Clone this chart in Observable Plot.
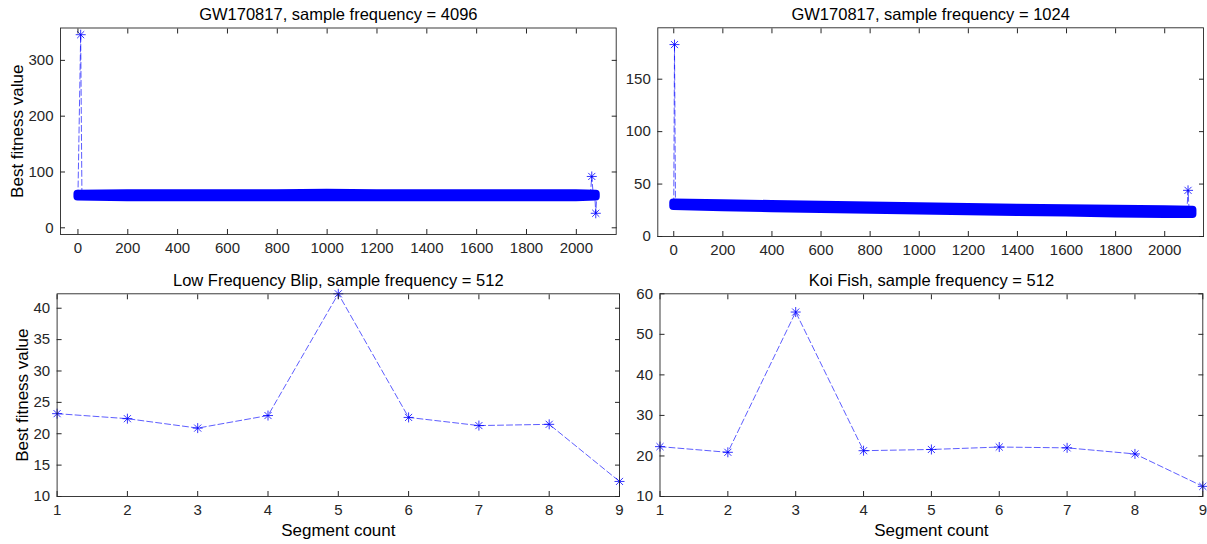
<!DOCTYPE html>
<html><head><meta charset="utf-8">
<script src="https://cdn.jsdelivr.net/npm/d3@7"></script>
<script src="https://cdn.jsdelivr.net/npm/@observablehq/plot@0.6"></script>
<style>
body{margin:0;background:#fff;}
#chart{position:relative;width:1207px;height:544px;overflow:hidden;background:#fff;}
#chart svg{position:absolute;}
</style></head><body><div id="chart"></div>
<script>
// ---------- data ----------
const titles = ["GW170817, sample frequency = 4096", "GW170817, sample frequency = 1024",
                "Low Frequency Blip, sample frequency = 512", "Koi Fish, sample frequency = 512"];
const yLabel = "Best fitness value";
const xLabel = "Segment count";

// top-left: dense band (envelope) + isolated points
const tlBandX    = [0, 200, 400, 600, 800, 1000, 1200, 1400, 1600, 1800, 2000, 2080];
const tlBandLow  = [55, 54, 54, 54, 54, 54, 54, 54, 54, 54, 54, 55];
const tlBandHigh = [60, 61, 61, 61, 61, 62, 61, 61, 61, 61, 61, 60];
const tlStartX = [0, 11, 16];
const tlStartY = [57, 346, 58];
const tlEndX = [2056, 2062, 2068, 2074, 2078, 2082];
const tlEndY = [58, 92, 58, 58, 26, 57];
const tlXTicks = [0, 200, 400, 600, 800, 1000, 1200, 1400, 1600, 1800, 2000];
const tlYTicks = [0, 100, 200, 300];

// top-right
const trBandX    = [0, 200, 400, 600, 800, 1000, 1200, 1400, 1600, 1800, 2000, 2115];
const trBandLow  = [28.5, 27.3, 26.5, 25.7, 25, 24.3, 23.6, 23, 22.3, 21.5, 21, 21];
const trBandHigh = [32, 31.3, 30.5, 29.7, 29, 28.3, 27.6, 27, 26.5, 26, 25.5, 25];
const trStartX = [0, 3, 7];
const trStartY = [31, 183, 30];
const trEndX = [2090, 2095, 2100];
const trEndY = [23, 44, 23];
const trXTicks = [0, 200, 400, 600, 800, 1000, 1200, 1400, 1600, 1800, 2000];
const trYTicks = [0, 50, 100, 150];

// bottom panels
const segments = [1, 2, 3, 4, 5, 6, 7, 8, 9];
const blipFitness = [23.2, 22.4, 20.9, 22.9, 42.3, 22.6, 21.3, 21.5, 12.4];
const koiFitness  = [22.3, 20.9, 55.5, 21.3, 21.6, 22.2, 22.0, 20.5, 12.5];
const blipYTicks = [10, 15, 20, 25, 30, 35, 40];
const koiYTicks  = [10, 20, 30, 40, 50, 60];

// ---------- helpers ----------
const FONT = '"Liberation Sans", Arial, Helvetica, sans-serif';
const BLUE = "#0000ff";
const AXC = "#262626";
const asterisk = {
  draw(ctx, size) {
    const r = Math.sqrt(size / Math.PI), d = r * Math.SQRT1_2;
    ctx.moveTo(-r, 0); ctx.lineTo(r, 0);
    ctx.moveTo(0, -r); ctx.lineTo(0, r);
    ctx.moveTo(-d, -d); ctx.lineTo(d, d);
    ctx.moveTo(-d, d); ctx.lineTo(d, -d);
  }
};
const pts = (xs, ys) => xs.map((x, i) => ({x, y: ys[i]}));
const band = (xs, lo, hi) => xs.map((x, i) => ({x, lo: lo[i], hi: hi[i]}));
const dashed = (data) => Plot.line(data, {x: "x", y: "y", stroke: BLUE, strokeWidth: 0.8, strokeDasharray: "6,3", strokeOpacity: 0.8});
const stars = (data) => Plot.dot(data, {x: "x", y: "y", symbol: asterisk, r: 5, stroke: BLUE, strokeWidth: 0.8, fill: "none"});
const fmt = d => String(d);

function axes(xTicks, yTicks) {
  const blank = () => "";
  return [
    Plot.axisX(xTicks, {anchor: "bottom", tickSize: 0, tickPadding: 8, tickFormat: fmt, label: null, fontSize: 15, fill: AXC}),
    Plot.axisX(xTicks, {anchor: "bottom", tickSize: -5, tickFormat: blank, label: null, stroke: AXC}),
    Plot.axisX(xTicks, {anchor: "top", tickSize: -5, tickFormat: blank, label: null, stroke: AXC}),
    Plot.axisY(yTicks, {anchor: "left", tickSize: 0, tickPadding: 7, tickFormat: fmt, label: null, fontSize: 15, fill: AXC}),
    Plot.axisY(yTicks, {anchor: "left", tickSize: -5, tickFormat: blank, label: null, stroke: AXC}),
    Plot.axisY(yTicks, {anchor: "right", tickSize: -5, tickFormat: blank, label: null, stroke: AXC}),
    Plot.frame({stroke: AXC, strokeWidth: 0.9})
  ];
}

function panel(o) {
  const marks = [
    ...o.marks,
    ...axes(o.xTicks, o.yTicks),
    Plot.text([o.title], {text: d => d, frameAnchor: "top", textAnchor: "middle", lineAnchor: "middle", dy: -13.5, fontSize: 16.5, fill: "#000"})
  ];
  if (o.yLabel) marks.push(Plot.text([o.yLabel], {text: d => d, frameAnchor: "left", textAnchor: "middle", lineAnchor: "middle", rotate: -90, dx: o.yLabelDx, fontSize: 17, fill: "#000"}));
  if (o.xLabel) marks.push(Plot.text([o.xLabel], {text: d => d, frameAnchor: "bottom", textAnchor: "middle", lineAnchor: "middle", dy: 34, fontSize: 17, fill: "#000"}));
  const svg = Plot.plot({
    width: o.width, height: o.height,
    marginLeft: o.ml, marginRight: o.mr, marginTop: o.mt, marginBottom: o.mb,
    style: {fontFamily: FONT, background: "transparent", overflow: "visible", color: AXC},
    x: {type: "linear", domain: o.xDomain},
    y: {type: "linear", domain: o.yDomain},
    marks
  });
  svg.style.left = o.left + "px";
  svg.style.top = o.top + "px";
  document.getElementById("chart").appendChild(svg);
}

const bandMark = (data) => Plot.areaY(data, {x: "x", y1: "lo", y2: "hi", fill: BLUE, stroke: BLUE, strokeWidth: 8, strokeLinejoin: "round"});

panel({
  left: 0, top: 0, width: 636, height: 265, ml: 60, mr: 20.3, mt: 27.5, mb: 31,
  xDomain: [-70, 2160], yDomain: [-12, 358], xTicks: tlXTicks, yTicks: tlYTicks,
  title: titles[0], yLabel, yLabelDx: -43,
  marks: [
    dashed(pts(tlStartX, tlStartY)), dashed(pts(tlEndX, tlEndY)),
    bandMark(band(tlBandX, tlBandLow, tlBandHigh)),
    stars(pts([tlStartX[1]], [tlStartY[1]])),
    stars(pts([tlEndX[1], tlEndX[4]], [tlEndY[1], tlEndY[4]]))
  ]
});

panel({
  left: 636, top: 0, width: 571, height: 265, ml: 21.3, mr: 4, mt: 27.3, mb: 29,
  xDomain: [-65, 2158], yDomain: [0, 199], xTicks: trXTicks, yTicks: trYTicks,
  title: titles[1],
  marks: [
    dashed(pts(trStartX, trStartY)), dashed(pts(trEndX, trEndY)),
    bandMark(band(trBandX, trBandLow, trBandHigh)),
    stars(pts([trStartX[1]], [trStartY[1]])),
    stars(pts([trEndX[1]], [trEndY[1]]))
  ]
});

panel({
  left: 0, top: 265, width: 636, height: 279, ml: 56.6, mr: 17, mt: 28.3, mb: 48,
  xDomain: [1, 9], yDomain: [10, 42.3], xTicks: segments, yTicks: blipYTicks,
  title: titles[2], yLabel, yLabelDx: -35, xLabel,
  marks: [dashed(pts(segments, blipFitness)), stars(pts(segments, blipFitness))]
});

panel({
  left: 636, top: 265, width: 571, height: 279, ml: 23.5, mr: 4.7, mt: 28.3, mb: 48,
  xDomain: [1, 9], yDomain: [10, 60], xTicks: segments, yTicks: koiYTicks,
  title: titles[3], xLabel,
  marks: [dashed(pts(segments, koiFitness)), stars(pts(segments, koiFitness))]
});
</script></body></html>
